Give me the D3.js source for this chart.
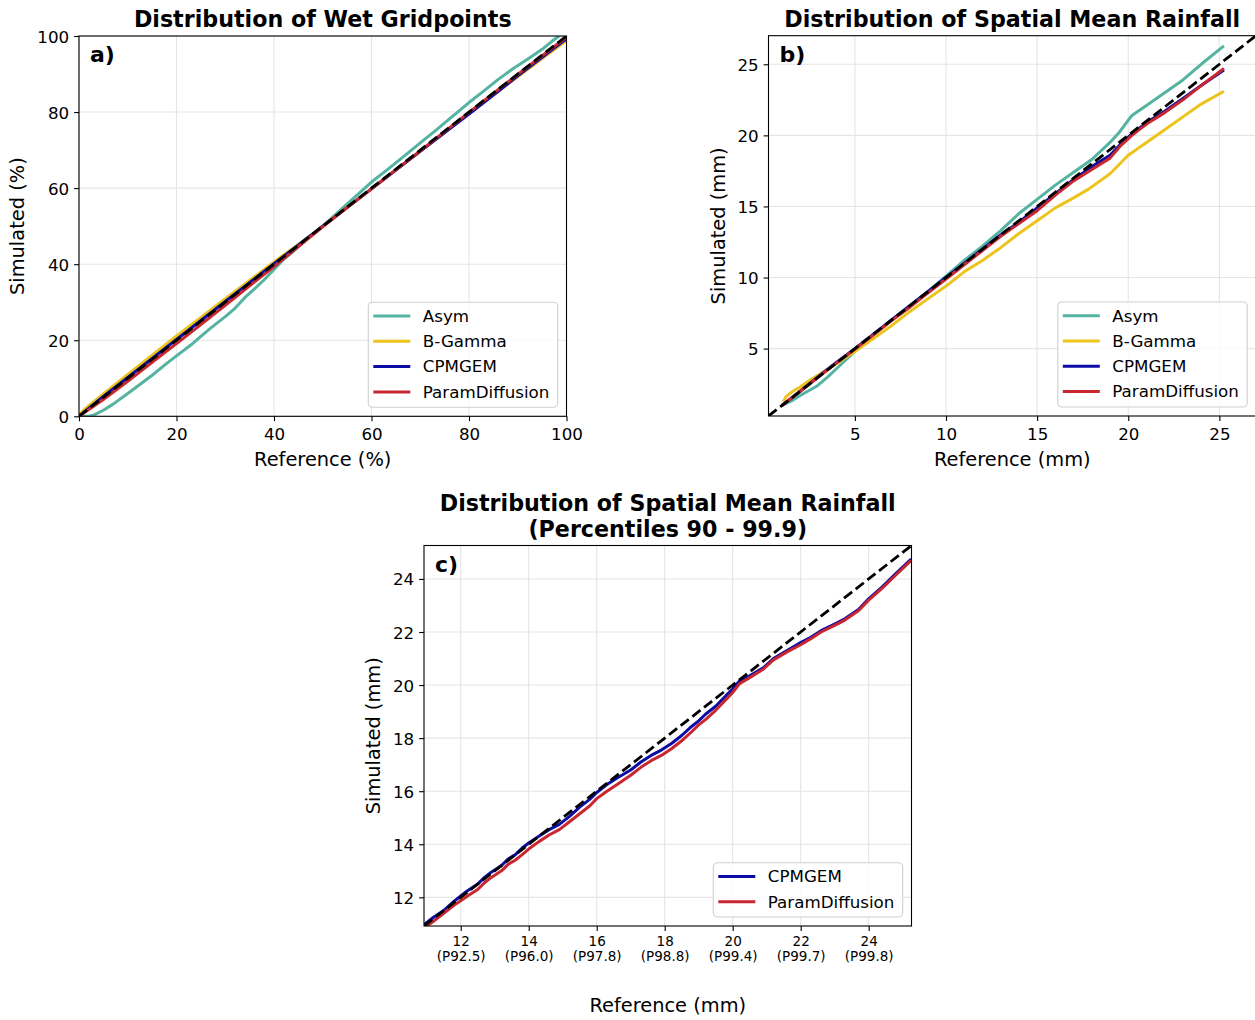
<!DOCTYPE html>
<html><head><meta charset="utf-8">
<script src="https://cdn.jsdelivr.net/npm/d3@7"></script>
<style>body{margin:0;background:#fff} svg{display:block} text{font-family:"DejaVu Sans",sans-serif;fill:#000}</style>
</head><body>
<svg id="chart" width="1255" height="1020"></svg>
<script>
// ---------- DATA ----------
const seriesNames = ["Asym", "B-Gamma", "CPMGEM", "ParamDiffusion"];
const seriesColors = ["#55b3a2", "#ecc41c", "#0b0ba6", "#c9272f"];

// Panel a: Distribution of wet gridpoints (%)
const wetAsym = [[0,0],[2,0],[3,0.3],[5,1.6],[7,3.2],[10,6.0],[12,7.9],[15,10.8],[18,13.9],[20,15.9],[23,18.8],[25,21.0],[27,23.2],[30,26.2],[32,28.4],[34,31.2],[36,33.5],[38,35.9],[40,38.6],[42,41.3],[44,43.4],[46,45.7],[48,47.9],[50,50.0],[52,52.3],[54,54.7],[56,57.0],[58,59.3],[60,61.6],[63,64.6],[66,67.7],[70,71.9],[73,75.0],[76,78.2],[80,82.5],[83,85.5],[86,88.6],[89,91.4],[92,93.9],[95,96.5],[97,98.6],[98.5,100]];
const wetBGamma = [[0,0.5],[2,2.8],[5,5.9],[10,11.0],[15,16.1],[20,21.1],[25,26.0],[30,30.9],[35,35.7],[40,40.6],[45,45.2],[50,50.0],[55,54.9],[60,59.8],[65,64.8],[70,69.7],[75,74.7],[80,79.6],[85,84.5],[90,89.3],[95,94.1],[100,98.8]];
const wetCPMGEM = [[0,0],[5,5.2],[10,10.2],[20,20.2],[30,30.2],[40,40.1],[50,50.0],[60,59.8],[70,69.7],[80,79.5],[90,89.5],[100,99.3]];
const wetParamDiffusion = [[0,0],[5,4.4],[10,9.2],[15,14.2],[20,19.1],[25,24.1],[30,29.2],[35,34.3],[40,39.4],[45,44.6],[50,49.8],[55,54.9],[60,59.8],[70,69.8],[80,79.9],[90,89.9],[100,99.7]];
const wetTicks = [0, 20, 40, 60, 80, 100];

// Panel b: Distribution of spatial mean rainfall (mm)
const rainAsym = [[1.0,1.0],[1.5,1.3],[2.0,1.7],[2.9,2.35],[3.5,3.0],[4.0,3.6],[4.5,4.2],[5,4.8],[6,5.95],[7,7.0],[8,8.0],[9,9.0],[10,10.1],[11,11.2],[12,12.2],[13,13.3],[14,14.5],[15,15.5],[16,16.5],[17,17.4],[18,18.3],[19,19.5],[19.5,20.2],[20.2,21.4],[21,22.1],[22,23.0],[23,23.9],[24,25.0],[25.25,26.3]];
const rainBGamma = [[1.07,1.27],[1.22,1.62],[1.6,2.0],[2.0,2.3],[2.54,2.79],[3,3.15],[4,3.95],[5,4.8],[6,5.7],[7,6.6],[8,7.6],[9,8.5],[10,9.4],[11,10.4],[12,11.2],[13,12.1],[14,13.1],[15,14.0],[16,14.9],[17,15.6],[17.8,16.2],[19,17.3],[20,18.6],[21,19.5],[22,20.4],[23,21.3],[24,22.2],[25.25,23.1]];
const rainCPMGEM = [[1,1],[2,2],[3,3.05],[4,4.05],[5,5.0],[6,6.0],[7,7.0],[8,8.0],[9,9.0],[10,10.0],[11,11.0],[12,12.0],[13,13.0],[14,13.9],[15,14.9],[16,15.9],[17,16.9],[18,17.8],[19,18.6],[19.6,19.4],[20.2,20.1],[21,20.9],[22,21.7],[23,22.6],[24,23.5],[25.25,24.6]];
const rainParamDiffusion = [[1,1],[2,2],[3,3],[4,4],[5,4.95],[6,5.95],[7,6.95],[8,7.9],[9,8.9],[10,9.9],[11,10.9],[12,11.9],[13,12.9],[14,13.8],[15,14.7],[16,15.8],[17,16.8],[18,17.6],[19,18.4],[19.6,19.3],[20.2,20.0],[21,20.8],[22,21.6],[23,22.5],[24,23.5],[25.25,24.7]];
const rainTicks = [5, 10, 15, 20, 25];

// Panel c: Percentiles 90 - 99.9 (mm)
const extCPMGEM = [[10.93,10.98],[11.2,11.25],[11.5,11.5],[11.8,11.85],[12.0,12.05],[12.2,12.25],[12.5,12.5],[12.7,12.75],[12.9,12.95],[13.2,13.2],[13.4,13.45],[13.6,13.6],[13.8,13.85],[14.0,14.05],[14.3,14.3],[14.6,14.55],[14.9,14.75],[15.2,15.05],[15.5,15.4],[15.8,15.7],[16.0,15.95],[16.3,16.25],[16.6,16.5],[17.0,16.8],[17.3,17.1],[17.6,17.35],[17.9,17.55],[18.2,17.8],[18.5,18.1],[18.8,18.45],[19.0,18.65],[19.2,18.9],[19.5,19.2],[19.8,19.6],[20.0,19.85],[20.2,20.15],[20.5,20.35],[20.9,20.65],[21.2,21.0],[21.6,21.3],[22.0,21.6],[22.3,21.8],[22.6,22.05],[23.0,22.3],[23.3,22.5],[23.7,22.85],[24.0,23.25],[24.4,23.7],[24.8,24.2],[25.25,24.75]];
const extParamDiffusion = [[10.98,10.9],[11.2,11.1],[11.5,11.4],[11.8,11.7],[12.0,11.87],[12.2,12.05],[12.5,12.3],[12.7,12.55],[12.9,12.75],[13.2,13.0],[13.4,13.25],[13.6,13.4],[13.8,13.6],[14.0,13.82],[14.3,14.1],[14.6,14.35],[14.9,14.55],[15.2,14.85],[15.5,15.15],[15.8,15.45],[16.0,15.72],[16.3,16.0],[16.6,16.25],[17.0,16.6],[17.3,16.9],[17.6,17.15],[17.9,17.35],[18.2,17.6],[18.5,17.9],[18.8,18.25],[19.0,18.5],[19.2,18.7],[19.5,19.05],[19.8,19.45],[20.0,19.72],[20.2,20.05],[20.5,20.28],[20.9,20.6],[21.2,20.95],[21.6,21.25],[22.0,21.52],[22.3,21.75],[22.6,22.0],[23.0,22.25],[23.3,22.45],[23.7,22.8],[24.0,23.2],[24.4,23.65],[24.8,24.15],[25.25,24.7]];
const extTicks = [12, 14, 16, 18, 20, 22, 24];
const extPercentiles = ["P92.5", "P96.0", "P97.8", "P98.8", "P99.4", "P99.7", "P99.8"];

// ---------- DRAW ----------
const svg = d3.select("#chart");
const FONT_TICK = 16.7, FONT_LABEL = 19.4, FONT_TITLE = 22.2;
const LINE_W = 3.0;
let clipId = 0;

function panel(o) {
  const g = svg.append("g").attr("transform", `translate(${o.left},${o.top})`);
  const x = d3.scaleLinear().domain(o.domain).range([0, o.w]);
  const y = d3.scaleLinear().domain(o.domain).range([o.h, 0]);
  const cid = "clip" + (clipId++);
  g.append("clipPath").attr("id", cid).append("rect").attr("width", o.w).attr("height", o.h);

  // grid
  const grid = g.append("g");
  grid.selectAll("line.gx").data(o.ticks).join("line")
    .attr("x1", d => x(d)).attr("x2", d => x(d)).attr("y1", 0).attr("y2", o.h)
    .attr("stroke", "#e5e5e5").attr("stroke-width", 1.1);
  grid.selectAll("line.gy").data(o.ticks).join("line")
    .attr("y1", d => y(d)).attr("y2", d => y(d)).attr("x1", 0).attr("x2", o.w)
    .attr("stroke", "#e5e5e5").attr("stroke-width", 1.1);

  const line = d3.line().x(d => x(d[0])).y(d => y(d[1]));
  const plot = g.append("g").attr("clip-path", `url(#${cid})`);
  o.series.forEach(s => {
    plot.append("path").attr("d", line(s.data)).attr("fill", "none")
      .attr("stroke", s.color).attr("stroke-width", LINE_W)
      .attr("stroke-linejoin", "round").attr("stroke-linecap", "butt");
  });
  // 1:1 reference line across domain
  plot.append("path").attr("d", line([[o.domain[0], o.domain[0]], [o.domain[1], o.domain[1]]]))
    .attr("fill", "none").attr("stroke", "#000").attr("stroke-width", 2.8)
    .attr("stroke-dasharray", "10.3,4.5");

  // axes
  const xa = g.append("g").attr("transform", `translate(0,${o.h})`)
    .call(d3.axisBottom(x).tickValues(o.ticks).tickSize(4.9).tickPadding(4.9).tickFormat(d3.format("d")));
  const ya = g.append("g")
    .call(d3.axisLeft(y).tickValues(o.ticks).tickSize(4.9).tickPadding(4.9).tickFormat(d3.format("d")));
  [xa, ya].forEach(a => {
    a.select(".domain").remove();
    a.selectAll(".tick line").attr("stroke", "#000").attr("stroke-width", 1.1);
    a.selectAll("text").attr("font-size", FONT_TICK).attr("font-family", "DejaVu Sans").attr("fill", "#000");
  });
  xa.selectAll("text").attr("dy", "0.83em");
  ya.selectAll("text").attr("dy", "0.36em");
  if (o.xSub) {
    xa.selectAll(".tick text").each(function(d, i) {
      const t = d3.select(this);
      t.text(null).attr("font-size", 13.5).attr("dy", null).attr("y", 0);
      t.append("tspan").attr("x", 0).attr("y", 20.3).text(d3.format("d")(d));
      t.append("tspan").attr("x", 0).attr("y", 35).text("(" + o.xSub[i] + ")");
    });
  }

  // frame
  g.append("rect").attr("width", o.w).attr("height", o.h).attr("fill", "none")
    .attr("stroke", "#000").attr("stroke-width", 1.1);

  // legend
  const n = o.series.length;
  const lw = 189.4, lh = 3.4 + 25.4 * n;
  const lx = o.w - 8.8 - lw, ly = o.h - 9 - lh;
  const lg = g.append("g").attr("transform", `translate(${lx},${ly})`);
  lg.append("rect").attr("width", lw).attr("height", lh).attr("rx", 4)
    .attr("fill", "#fff").attr("fill-opacity", 0.8).attr("stroke", "#d0d0d0").attr("stroke-width", 1.1);
  o.series.forEach((s, i) => {
    const cy = 13.7 + i * 25.3;
    lg.append("line").attr("x1", 5).attr("x2", 42).attr("y1", cy).attr("y2", cy)
      .attr("stroke", s.color).attr("stroke-width", LINE_W);
    lg.append("text").attr("x", 54.5).attr("y", cy + 5.8).attr("font-size", FONT_TICK).text(s.name);
  });

  // panel letter
  g.append("text").attr("x", 11).attr("y", 26).attr("font-size", 22).attr("font-weight", "bold").text(o.letter);

  // titles
  o.title.forEach((t, i) => {
    g.append("text").attr("x", o.w / 2).attr("y", o.titleY[i]).attr("text-anchor", "middle")
      .attr("font-size", FONT_TITLE).attr("font-weight", "bold").text(t);
  });
  g.append("text").attr("x", o.w / 2).attr("y", o.h + o.xLabelDy).attr("text-anchor", "middle")
    .attr("font-size", FONT_LABEL).text(o.xLabel);
  g.append("text").attr("transform", `translate(${o.yLabelDx},${o.h / 2}) rotate(-90)`)
    .attr("text-anchor", "middle").attr("font-size", FONT_LABEL).text(o.yLabel);
}

panel({
  left: 79, top: 36, w: 487.5, h: 380.3, domain: [0, 100], ticks: wetTicks,
  series: [
    {name: seriesNames[0], color: seriesColors[0], data: wetAsym},
    {name: seriesNames[1], color: seriesColors[1], data: wetBGamma},
    {name: seriesNames[2], color: seriesColors[2], data: wetCPMGEM},
    {name: seriesNames[3], color: seriesColors[3], data: wetParamDiffusion}
  ],
  letter: "a)", title: ["Distribution of Wet Gridpoints"], titleY: [-9],
  xLabel: "Reference (%)", yLabel: "Simulated (%)", xLabelDy: 49.7, yLabelDx: -55
});

panel({
  left: 768.5, top: 35.7, w: 487.5, h: 380.3, domain: [0.26, 27.01], ticks: rainTicks,
  series: [
    {name: seriesNames[0], color: seriesColors[0], data: rainAsym},
    {name: seriesNames[1], color: seriesColors[1], data: rainBGamma},
    {name: seriesNames[2], color: seriesColors[2], data: rainCPMGEM},
    {name: seriesNames[3], color: seriesColors[3], data: rainParamDiffusion}
  ],
  letter: "b)", title: ["Distribution of Spatial Mean Rainfall"], titleY: [-9],
  xLabel: "Reference (mm)", yLabel: "Simulated (mm)", xLabelDy: 49.7, yLabelDx: -43.5
});

panel({
  left: 424, top: 545.5, w: 487.5, h: 380.5, domain: [10.92, 25.26], ticks: extTicks, xSub: extPercentiles,
  series: [
    {name: seriesNames[2], color: seriesColors[2], data: extCPMGEM},
    {name: seriesNames[3], color: seriesColors[3], data: extParamDiffusion}
  ],
  letter: "c)", title: ["Distribution of Spatial Mean Rainfall", "(Percentiles 90 - 99.9)"], titleY: [-35, -8.5],
  xLabel: "Reference (mm)", yLabel: "Simulated (mm)", xLabelDy: 86, yLabelDx: -44
});
</script>
</body></html>
